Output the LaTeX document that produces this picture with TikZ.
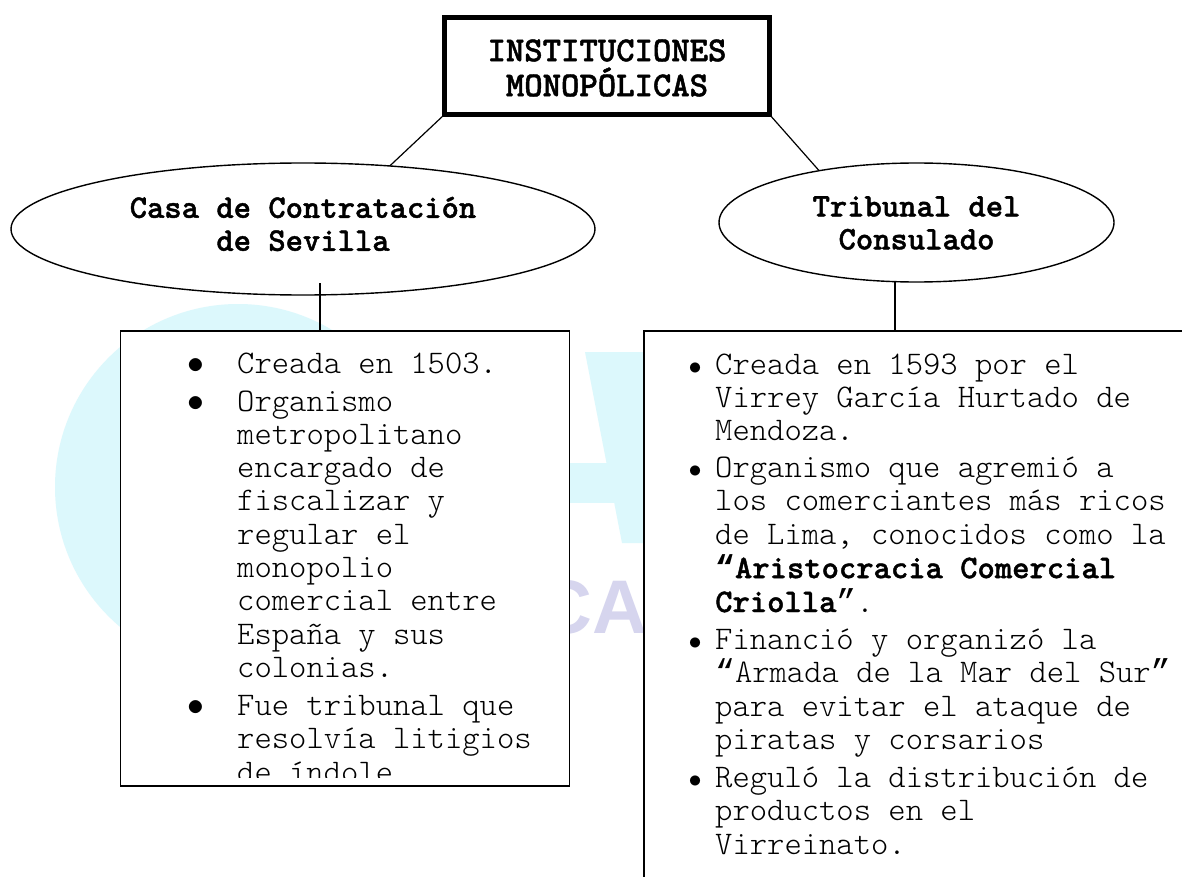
\documentclass[tikz,border=0pt]{standalone}
\usepackage{fontspec}
\setmainfont{Liberation Serif}
\newfontfamily\cour{lmmonolt10}[Extension=.otf, UprightFont=*-regular, BoldFont=*-bold, BoldFeatures={FakeBold=1.3}]
\newfontfamily\qfont{Liberation Mono}
\newfontfamily\wmfont{Liberation Sans}
\usetikzlibrary{shapes.geometric}
\definecolor{wmcyan}{HTML}{DCF8FC}
\definecolor{wmlav}{HTML}{D6D5EE}
\newcommand{\bulL}{\makebox[0pt][c]{\scalebox{1.35}{$\bullet$}}}
\newcommand{\bulR}{\makebox[0pt][c]{\scalebox{1.05}{$\bullet$}}}
\newcommand{\oq}{{\qfont “}}
\newcommand{\cq}{{\qfont ”}}
\begin{document}
\begin{tikzpicture}[x=1pt,y=-1pt,
  headtext/.style={font=\cour\bfseries\fontsize{33}{33}\selectfont, align=center, inner sep=0pt},
  oval/.style={ellipse, draw, line width=1.4pt, inner sep=0pt, outer sep=0pt},
  infobox/.style={draw, line width=1.5pt, fill=white, inner sep=0pt, outer sep=0pt, anchor=north west},
  titlebox/.style={draw, line width=5pt, fill=white, inner sep=0pt, outer sep=0pt},
  link/.style={line width=1.2pt},
  bodytext/.style={font=\cour\fontsize{33}{33.3}\selectfont, inner sep=0pt, anchor=base west, align=left}]
\useasboundingbox (0,0) rectangle (1182,877);
\clip (0,0) rectangle (1182,877);
\fill[white] (0,0) rectangle (1182,877);

% watermark
\fill[wmcyan] (238,487) circle (183pt);
\fill[wmcyan] (585,352) -- (705,352) -- (760,543) -- (622,543) -- cycle;
\fill[wmcyan] (540,463) rectangle (650,503);
\node[font=\wmfont\bfseries\fontsize{76}{76}\selectfont, text=wmlav, anchor=base west, inner sep=0pt] (wm) at (537,633) {CA};

% boxes
\node[infobox, minimum width=449pt, minimum height=455pt] (lbox) at (120.5,331) {};
\node[infobox, minimum width=560pt, minimum height=600pt] (rbox) at (644,331) {};

\begin{scope}
\clip (121,331) rectangle (569,777);
\node[bodytext] (ltext) at (196,373) {\begin{tabular}[t]{@{}l@{\hspace{41pt}}l@{}}
\bulL & Creada en 1503.\\[4.7pt]
\bulL & Organismo\\
 & metropolitano\\
 & encargado de\\
 & fiscalizar y\\
 & regular el\\
 & monopolio\\
 & comercial entre\\
 & España y sus\\
 & colonias.\\[4.7pt]
\bulL & Fue tribunal que\\
 & resolvía litigios\\
 & de índole
\end{tabular}};
\end{scope}

\node[bodytext] (rtext) at (695,374) {\begin{tabular}[t]{@{}l@{\hspace{20pt}}l@{}}
\bulR & Creada en 1593 por el\\
 & Virrey García Hurtado de\\
 & Mendoza.\\[3.7pt]
\bulR & Organismo que agremió a\\
 & los comerciantes más ricos\\
 & de Lima, conocidos como la\\
 & {\bfseries{\qfont\bfseries “}Aristocracia Comercial}\\
 & {\bfseries Criolla}\cq.\\[3.7pt]
\bulR & Financió y organizó la\\
 & \oq Armada de la Mar del Sur\cq\\
 & para evitar el ataque de\\
 & piratas y corsarios\\[4.7pt]
\bulR & Reguló la distribución de\\
 & productos en el\\
 & Virreinato.
\end{tabular}};

% ellipses
\node[oval, minimum width=584pt, minimum height=132pt] (casa) at (303,229) {};
\node[headtext] (casaT) at (303,224) {Casa de Contratación\\de Sevilla};
\node[oval, minimum width=395pt, minimum height=119pt] (trib) at (916.5,222.5) {};
\node[headtext] (tribT) at (916.5,223) {Tribunal del\\Consulado};

% title
\node[titlebox, minimum width=325pt, minimum height=97pt] (title) at (607,66) {};
\node[headtext, font=\cour\bfseries\fontsize{35}{35}\selectfont] (titleT) at (607,68) {INSTITUCIONES\\MONOPÓLICAS};

% connectors
\draw[link] (title.south west) -- (casa.36);
\draw[link] (title.south east) -- (trib.152);
\coordinate (cL) at (320,283);
\draw[link] (cL) -- (cL |- lbox.north);
\draw[link] (trib.-110.7) -- (trib.-110.7 |- rbox.north);
\end{tikzpicture}
\end{document}
